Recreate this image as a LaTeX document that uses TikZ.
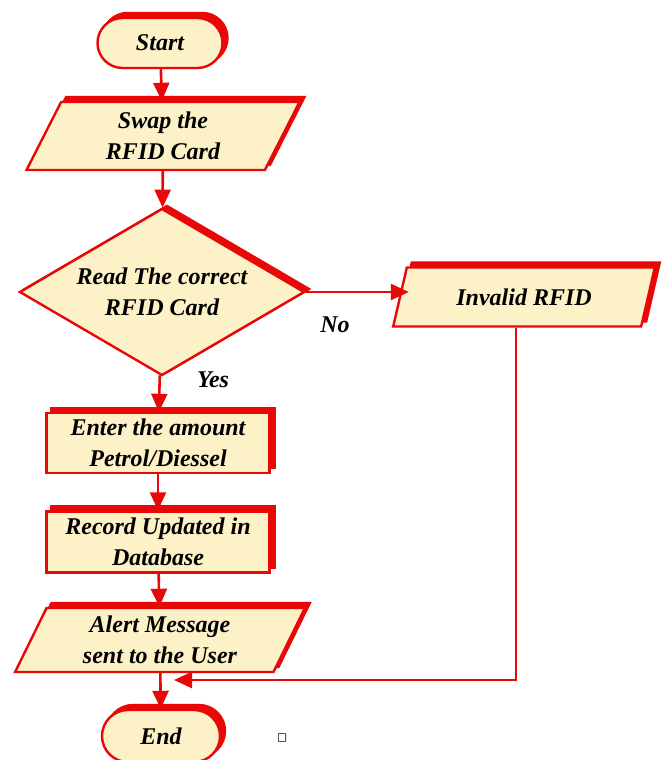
\documentclass[tikz,border=0pt]{standalone}
\usepackage{fontspec}
\setmainfont{Liberation Serif}
\usetikzlibrary{shapes.geometric,shapes.misc,shadows,arrows.meta}
\definecolor{fc}{HTML}{FDF1C8}
\definecolor{rc}{HTML}{E80808}
\begin{document}
\begin{tikzpicture}[x=1pt,y=-1pt,
  base/.style={draw=rc, fill=fc, line width=2.4pt, inner sep=0pt, align=center,
    font=\fontsize{24}{31}\selectfont\bfseries\itshape,
    copy shadow={shadow xshift=5pt, shadow yshift=5pt, fill=rc, draw=rc}},
  term/.style={base, rounded rectangle},
  box/.style={base, rectangle},
  io/.style={base, trapezium, trapezium stretches=true},
  dec/.style={draw=rc, fill=fc, line width=2.4pt, inner sep=0pt, align=center, diamond, aspect=1.7,
    font=\fontsize{24}{31}\selectfont\bfseries\itshape,
    copy shadow={shadow xshift=5pt, shadow yshift=3pt, fill=rc, draw=rc}},
  conn/.style={draw=rc, line width=2.6pt, -{Triangle[length=18pt,width=16pt]}},
  lbl/.style={font=\fontsize{24}{28}\selectfont\bfseries\itshape, inner sep=0pt}
]
\useasboundingbox (0,0) rectangle (664,760);

\node[term, minimum width=125, minimum height=50] (start) at (160,43) {Start};
\node[io, minimum width=273, minimum height=68, trapezium left angle=68, trapezium right angle=112] (swap) at (163,136) {Swap the\\RFID Card};
\node[dec, minimum width=285, minimum height=167] (read) at (162,292) {Read The correct\\RFID Card};
\node[io, minimum width=262, minimum height=59, trapezium left angle=65, trapezium right angle=115] (inv) at (524,297) {Invalid RFID};
\node[box, minimum width=223, minimum height=60] (enter) at (158,443) {Enter the amount\\Petrol/Diessel};
\node[box, minimum width=223, minimum height=61] (rec) at (158,542) {Record Updated in\\Database};
\node[io, minimum width=290, minimum height=64, trapezium left angle=66, trapezium right angle=114] (alert) at (160,640) {Alert Message\\sent to the User};
\node[term, minimum width=118, minimum height=52] (end) at (161,736) {End};

\node[lbl] (no) at (335,325) {No};
\node[lbl] (yes) at (213,380) {Yes};

\node[draw=gray!70!black, fill=white, line width=0.8pt, minimum width=7pt, minimum height=8pt, inner sep=0pt,
  drop shadow={shadow xshift=1pt, shadow yshift=-1pt, fill=gray!40}] (mark) at (282,737) {};

\coordinate (merge) at (174,680);

\draw[conn] (start) -- (swap);
\draw[conn] (swap) -- (read);
\draw[conn] (read.east) -- ([xshift=10pt]read.east -| inv.west);
\draw[conn] (read) -- (enter);
\draw[conn] (enter) -- (rec);
\draw[conn] (rec) -- (alert);
\draw[conn] (alert) -- (end);
\draw[conn] ([xshift=-8pt]inv.south) |- (merge);
\end{tikzpicture}
\end{document}
